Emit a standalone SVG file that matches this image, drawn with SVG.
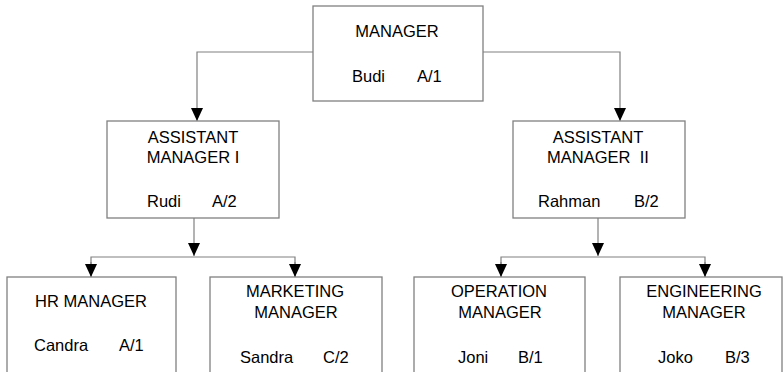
<svg xmlns="http://www.w3.org/2000/svg" width="783" height="372" viewBox="0 0 783 372">
  <style>
    .box { fill: #ffffff; stroke: #808080; stroke-width: 1.3; }
    .link { fill: none; stroke: #808080; stroke-width: 1.2; }
    text { font-family: "Liberation Sans", Arial, sans-serif; font-size: 16.5px; fill: #000000; white-space: pre; }
    .c { text-anchor: middle; }
  </style>
  <defs>
    <marker id="arrow" markerUnits="userSpaceOnUse" markerWidth="14" markerHeight="12" refX="13" refY="6" orient="auto">
      <path d="M0,0 L13,6 L0,12 z" fill="#000"/>
    </marker>
  </defs>
  <rect width="783" height="372" fill="#ffffff"/>

  <g id="connectors">
    <path class="link" d="M313,52 H197 V121" marker-end="url(#arrow)"/>
    <path class="link" d="M483,52 H620 V121" marker-end="url(#arrow)"/>
    <path class="link" d="M194,218 V256" marker-end="url(#arrow)"/>
    <path class="link" d="M91,277 V257 H295 V277" />
    <path class="link" d="M91,262 V277" marker-end="url(#arrow)"/>
    <path class="link" d="M295,262 V277" marker-end="url(#arrow)"/>
    <path class="link" d="M598,218 V256" marker-end="url(#arrow)"/>
    <path class="link" d="M501,277 V257 H705 V277" />
    <path class="link" d="M501,262 V277" marker-end="url(#arrow)"/>
    <path class="link" d="M705,262 V277" marker-end="url(#arrow)"/>
  </g>

  <g id="manager">
    <rect class="box" x="313" y="6" width="170" height="95"/>
    <text class="c" x="397" y="37">MANAGER</text>
    <text x="352" y="82">Budi</text>
    <text x="417" y="82">A/1</text>
  </g>

  <g id="assistant-manager-1">
    <rect class="box" x="107" y="121" width="172" height="97"/>
    <text class="c" x="193" y="143">ASSISTANT</text>
    <text class="c" x="193" y="163">MANAGER I</text>
    <text x="147" y="207">Rudi</text>
    <text x="212" y="207">A/2</text>
  </g>

  <g id="assistant-manager-2">
    <rect class="box" x="513" y="121" width="172" height="97"/>
    <text class="c" x="598" y="143">ASSISTANT</text>
    <text class="c" x="598" y="163" xml:space="preserve">MANAGER  II</text>
    <text x="538" y="207">Rahman</text>
    <text x="634" y="207">B/2</text>
  </g>

  <g id="hr-manager">
    <rect class="box" x="7" y="277" width="169" height="100"/>
    <text class="c" x="91" y="307">HR MANAGER</text>
    <text x="34" y="351">Candra</text>
    <text x="119" y="351">A/1</text>
  </g>

  <g id="marketing-manager">
    <rect class="box" x="210" y="277" width="172" height="100"/>
    <text class="c" x="295" y="297">MARKETING</text>
    <text class="c" x="296" y="318">MANAGER</text>
    <text x="240" y="363">Sandra</text>
    <text x="323" y="363">C/2</text>
  </g>

  <g id="operation-manager">
    <rect class="box" x="414" y="277" width="171" height="100"/>
    <text class="c" x="499" y="297">OPERATION</text>
    <text class="c" x="500" y="318">MANAGER</text>
    <text x="458" y="363">Joni</text>
    <text x="518" y="363">B/1</text>
  </g>

  <g id="engineering-manager">
    <rect class="box" x="620" y="277" width="162" height="100"/>
    <text class="c" x="704" y="297">ENGINEERING</text>
    <text class="c" x="704" y="318">MANAGER</text>
    <text x="658" y="363">Joko</text>
    <text x="725" y="363">B/3</text>
  </g>
</svg>
